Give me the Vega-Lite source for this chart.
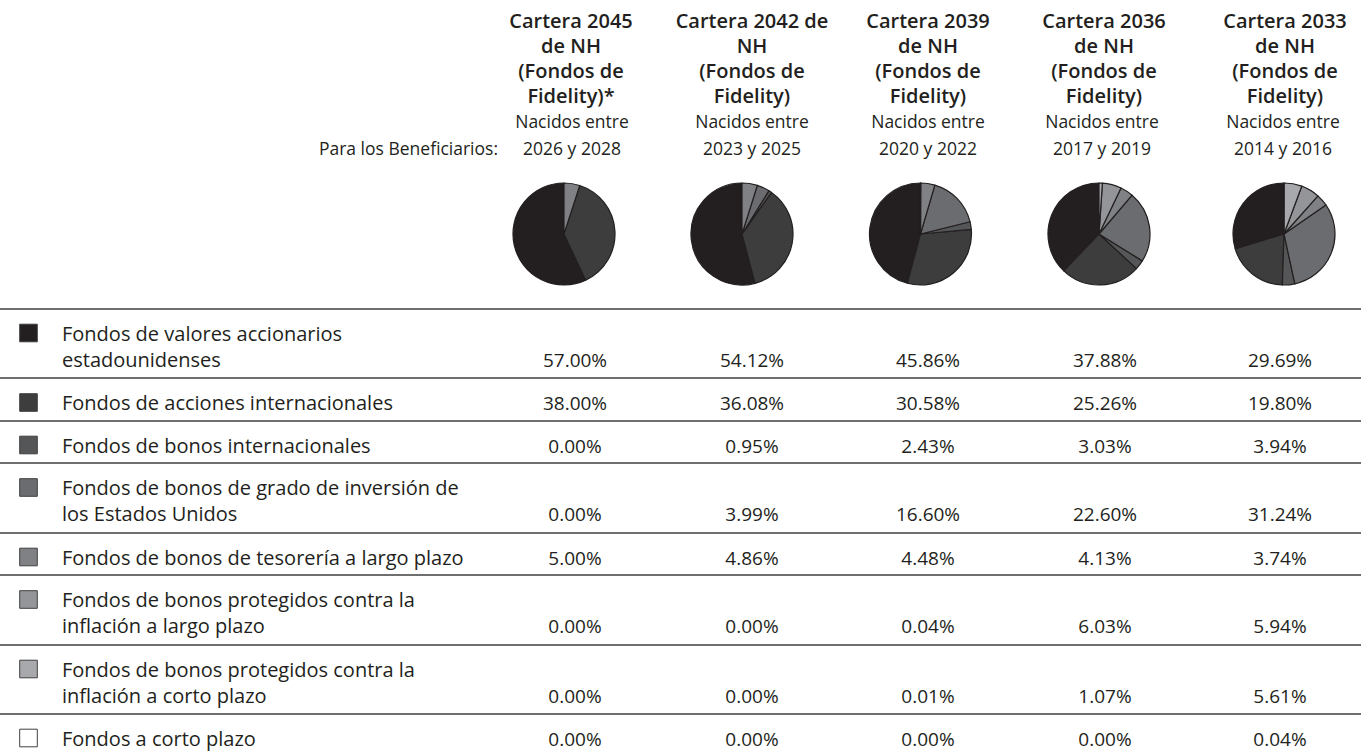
{
  "$schema": "https://vega.github.io/schema/vega-lite/v6.json",
  "width": 1361,
  "height": 752,
  "padding": 0,
  "autosize": "none",
  "background": "white",
  "config": {"view": {"stroke": null}, "font": "Open Sans"},
  "datasets": {
    "funds": [
      {"order": 1, "fund": "Fondos de valores accionarios estadounidenses", "label": "Fondos de valores accionarios\nestadounidenses"},
      {"order": 2, "fund": "Fondos de acciones internacionales", "label": "Fondos de acciones internacionales"},
      {"order": 3, "fund": "Fondos de bonos internacionales", "label": "Fondos de bonos internacionales"},
      {"order": 4, "fund": "Fondos de bonos de grado de inversión de los Estados Unidos", "label": "Fondos de bonos de grado de inversión de\nlos Estados Unidos"},
      {"order": 5, "fund": "Fondos de bonos de tesorería a largo plazo", "label": "Fondos de bonos de tesorería a largo plazo"},
      {"order": 6, "fund": "Fondos de bonos protegidos contra la inflación a largo plazo", "label": "Fondos de bonos protegidos contra la\ninflación a largo plazo"},
      {"order": 7, "fund": "Fondos de bonos protegidos contra la inflación a corto plazo", "label": "Fondos de bonos protegidos contra la\ninflación a corto plazo"},
      {"order": 8, "fund": "Fondos a corto plazo", "label": "Fondos a corto plazo"}
    ],
    "ports": [
      {"portfolio": "2045", "col": 1, "title": "Cartera 2045\nde NH\n(Fondos de\nFidelity)*", "born": "Nacidos entre\n2026 y 2028"},
      {"portfolio": "2042", "col": 2, "title": "Cartera 2042 de\nNH\n(Fondos de\nFidelity)", "born": "Nacidos entre\n2023 y 2025"},
      {"portfolio": "2039", "col": 3, "title": "Cartera 2039\nde NH\n(Fondos de\nFidelity)", "born": "Nacidos entre\n2020 y 2022"},
      {"portfolio": "2036", "col": 4, "title": "Cartera 2036\nde NH\n(Fondos de\nFidelity)", "born": "Nacidos entre\n2017 y 2019"},
      {"portfolio": "2033", "col": 5, "title": "Cartera 2033\nde NH\n(Fondos de\nFidelity)", "born": "Nacidos entre\n2014 y 2016"}
    ],
    "alloc": [
      {"portfolio": "2045", "fund": "Fondos de valores accionarios estadounidenses", "pct": 0.57},
      {"portfolio": "2045", "fund": "Fondos de acciones internacionales", "pct": 0.38},
      {"portfolio": "2045", "fund": "Fondos de bonos internacionales", "pct": 0.0},
      {"portfolio": "2045", "fund": "Fondos de bonos de grado de inversión de los Estados Unidos", "pct": 0.0},
      {"portfolio": "2045", "fund": "Fondos de bonos de tesorería a largo plazo", "pct": 0.05},
      {"portfolio": "2045", "fund": "Fondos de bonos protegidos contra la inflación a largo plazo", "pct": 0.0},
      {"portfolio": "2045", "fund": "Fondos de bonos protegidos contra la inflación a corto plazo", "pct": 0.0},
      {"portfolio": "2045", "fund": "Fondos a corto plazo", "pct": 0.0},
      {"portfolio": "2042", "fund": "Fondos de valores accionarios estadounidenses", "pct": 0.5412},
      {"portfolio": "2042", "fund": "Fondos de acciones internacionales", "pct": 0.3608},
      {"portfolio": "2042", "fund": "Fondos de bonos internacionales", "pct": 0.0095},
      {"portfolio": "2042", "fund": "Fondos de bonos de grado de inversión de los Estados Unidos", "pct": 0.0399},
      {"portfolio": "2042", "fund": "Fondos de bonos de tesorería a largo plazo", "pct": 0.0486},
      {"portfolio": "2042", "fund": "Fondos de bonos protegidos contra la inflación a largo plazo", "pct": 0.0},
      {"portfolio": "2042", "fund": "Fondos de bonos protegidos contra la inflación a corto plazo", "pct": 0.0},
      {"portfolio": "2042", "fund": "Fondos a corto plazo", "pct": 0.0},
      {"portfolio": "2039", "fund": "Fondos de valores accionarios estadounidenses", "pct": 0.4586},
      {"portfolio": "2039", "fund": "Fondos de acciones internacionales", "pct": 0.3058},
      {"portfolio": "2039", "fund": "Fondos de bonos internacionales", "pct": 0.0243},
      {"portfolio": "2039", "fund": "Fondos de bonos de grado de inversión de los Estados Unidos", "pct": 0.166},
      {"portfolio": "2039", "fund": "Fondos de bonos de tesorería a largo plazo", "pct": 0.0448},
      {"portfolio": "2039", "fund": "Fondos de bonos protegidos contra la inflación a largo plazo", "pct": 0.0004},
      {"portfolio": "2039", "fund": "Fondos de bonos protegidos contra la inflación a corto plazo", "pct": 0.0001},
      {"portfolio": "2039", "fund": "Fondos a corto plazo", "pct": 0.0},
      {"portfolio": "2036", "fund": "Fondos de valores accionarios estadounidenses", "pct": 0.3788},
      {"portfolio": "2036", "fund": "Fondos de acciones internacionales", "pct": 0.2526},
      {"portfolio": "2036", "fund": "Fondos de bonos internacionales", "pct": 0.0303},
      {"portfolio": "2036", "fund": "Fondos de bonos de grado de inversión de los Estados Unidos", "pct": 0.226},
      {"portfolio": "2036", "fund": "Fondos de bonos de tesorería a largo plazo", "pct": 0.0413},
      {"portfolio": "2036", "fund": "Fondos de bonos protegidos contra la inflación a largo plazo", "pct": 0.0603},
      {"portfolio": "2036", "fund": "Fondos de bonos protegidos contra la inflación a corto plazo", "pct": 0.0107},
      {"portfolio": "2036", "fund": "Fondos a corto plazo", "pct": 0.0},
      {"portfolio": "2033", "fund": "Fondos de valores accionarios estadounidenses", "pct": 0.2969},
      {"portfolio": "2033", "fund": "Fondos de acciones internacionales", "pct": 0.198},
      {"portfolio": "2033", "fund": "Fondos de bonos internacionales", "pct": 0.0394},
      {"portfolio": "2033", "fund": "Fondos de bonos de grado de inversión de los Estados Unidos", "pct": 0.3124},
      {"portfolio": "2033", "fund": "Fondos de bonos de tesorería a largo plazo", "pct": 0.0374},
      {"portfolio": "2033", "fund": "Fondos de bonos protegidos contra la inflación a largo plazo", "pct": 0.0594},
      {"portfolio": "2033", "fund": "Fondos de bonos protegidos contra la inflación a corto plazo", "pct": 0.0561},
      {"portfolio": "2033", "fund": "Fondos a corto plazo", "pct": 0.0004}
    ],
    "notes": [{"note": "Para los Beneficiarios:"}]
  },
  "layer": [
    {
      "data": {"name": "ports"},
      "mark": {"type": "text", "fontSize": 20, "fontWeight": 600, "lineBreak": "\n", "lineHeight": 25, "align": "center", "baseline": "alphabetic", "color": "#231f20"},
      "encoding": {
        "x": {"field": "col", "type": "quantitative", "axis": null, "scale": {"domain": [1, 2, 3, 4, 5], "range": [571, 752, 928, 1104, 1285]}},
        "y": {"field": "col", "type": "quantitative", "axis": null, "scale": {"domain": [1, 5], "range": [28, 28]}},
        "text": {"field": "title"}
      }
    },
    {
      "data": {"name": "ports"},
      "mark": {"type": "text", "fontSize": 17.5, "lineBreak": "\n", "lineHeight": 26.5, "align": "center", "baseline": "alphabetic", "color": "#231f20"},
      "encoding": {
        "x": {"field": "col", "type": "quantitative", "axis": null, "scale": {"domain": [1, 2, 3, 4, 5], "range": [572, 752, 928, 1102, 1283]}},
        "y": {"field": "col", "type": "quantitative", "axis": null, "scale": {"domain": [1, 5], "range": [128, 128]}},
        "text": {"field": "born"}
      }
    },
    {
      "data": {"name": "notes"},
      "mark": {"type": "text", "fontSize": 17.5, "align": "right", "baseline": "alphabetic", "color": "#231f20"},
      "encoding": {
        "x": {"datum": 1, "type": "quantitative", "axis": null, "scale": {"domain": [0, 1], "range": [0, 498]}},
        "y": {"datum": 1, "type": "quantitative", "axis": null, "scale": {"domain": [0, 1], "range": [0, 154.5]}},
        "text": {"field": "note"}
      }
    },
    {
      "data": {"name": "alloc"},
      "transform": [
        {"lookup": "portfolio", "from": {"data": {"name": "ports"}, "key": "portfolio", "fields": ["col"]}},
        {"lookup": "fund", "from": {"data": {"name": "funds"}, "key": "fund", "fields": ["order"]}},
        {"filter": "datum.pct > 0"},
        {"stack": "pct", "groupby": ["portfolio"], "sort": [{"field": "order", "order": "descending"}], "as": ["t0", "t1"]}
      ],
      "mark": {"type": "arc", "radius": 51, "stroke": "#231f20", "strokeWidth": 1.2, "strokeJoin": "round"},
      "encoding": {
        "x": {"field": "col", "type": "quantitative", "axis": null, "scale": {"domain": [1, 2, 3, 4, 5], "range": [564, 742, 920.5, 1099, 1284]}},
        "y": {"field": "col", "type": "quantitative", "axis": null, "scale": {"domain": [1, 5], "range": [234, 234]}},
        "theta": {"field": "t0", "type": "quantitative", "stack": null, "scale": {"domain": [0, 1], "range": [0, 6.283185307179586]}},
        "theta2": {"field": "t1"},
        "color": {"field": "fund", "type": "nominal", "legend": null, "scale": {"domain": ["Fondos de valores accionarios estadounidenses", "Fondos de acciones internacionales", "Fondos de bonos internacionales", "Fondos de bonos de grado de inversión de los Estados Unidos", "Fondos de bonos de tesorería a largo plazo", "Fondos de bonos protegidos contra la inflación a largo plazo", "Fondos de bonos protegidos contra la inflación a corto plazo", "Fondos a corto plazo"], "range": ["#231f20", "#3d3d3e", "#555658", "#6b6c6f", "#7f8184", "#939598", "#a7a9ac", "#ffffff"]}}
      }
    },
    {
      "data": {"name": "funds"},
      "mark": {"type": "rule", "color": "#3f3f41", "strokeWidth": 1.6},
      "encoding": {
        "y": {"field": "order", "type": "quantitative", "axis": null, "scale": {"domain": [1, 2, 3, 4, 5, 6, 7, 8], "range": [309, 378, 421, 463, 533, 575, 645, 714]}}
      }
    },
    {
      "data": {"name": "funds"},
      "mark": {"type": "square", "size": 310, "filled": true, "opacity": 1, "stroke": "#414042", "strokeWidth": 1},
      "encoding": {
        "x": {"field": "order", "type": "quantitative", "axis": null, "scale": {"domain": [1, 8], "range": [28.5, 28.5]}},
        "y": {"field": "order", "type": "quantitative", "axis": null, "scale": {"domain": [1, 2, 3, 4, 5, 6, 7, 8], "range": [333, 402.5, 445, 487.5, 557, 599.5, 669, 738]}},
        "color": {"field": "fund", "type": "nominal", "legend": null}
      }
    },
    {
      "data": {"name": "funds"},
      "mark": {"type": "text", "fontSize": 20, "lineBreak": "\n", "lineHeight": 26, "align": "left", "baseline": "alphabetic", "color": "#231f20"},
      "encoding": {
        "x": {"field": "order", "type": "quantitative", "axis": null, "scale": {"domain": [1, 8], "range": [62, 62]}},
        "y": {"field": "order", "type": "quantitative", "axis": null, "scale": {"domain": [1, 2, 3, 4, 5, 6, 7, 8], "range": [341, 410, 453, 495, 565, 607, 677, 746]}},
        "text": {"field": "label"}
      }
    },
    {
      "data": {"name": "alloc"},
      "transform": [
        {"lookup": "portfolio", "from": {"data": {"name": "ports"}, "key": "portfolio", "fields": ["col"]}},
        {"lookup": "fund", "from": {"data": {"name": "funds"}, "key": "fund", "fields": ["order"]}}
      ],
      "mark": {"type": "text", "fontSize": 19, "align": "center", "baseline": "alphabetic", "color": "#231f20"},
      "encoding": {
        "x": {"field": "col", "type": "quantitative", "axis": null, "scale": {"domain": [1, 2, 3, 4, 5], "range": [575, 752, 928, 1105, 1280]}},
        "y": {"field": "order", "type": "quantitative", "axis": null, "scale": {"domain": [1, 2, 3, 4, 5, 6, 7, 8], "range": [367, 410, 453, 521, 565, 633, 703, 746]}},
        "text": {"field": "pct", "type": "quantitative", "format": ".2%"}
      }
    }
  ],
  "resolve": {"scale": {"x": "independent", "y": "independent"}}
}
